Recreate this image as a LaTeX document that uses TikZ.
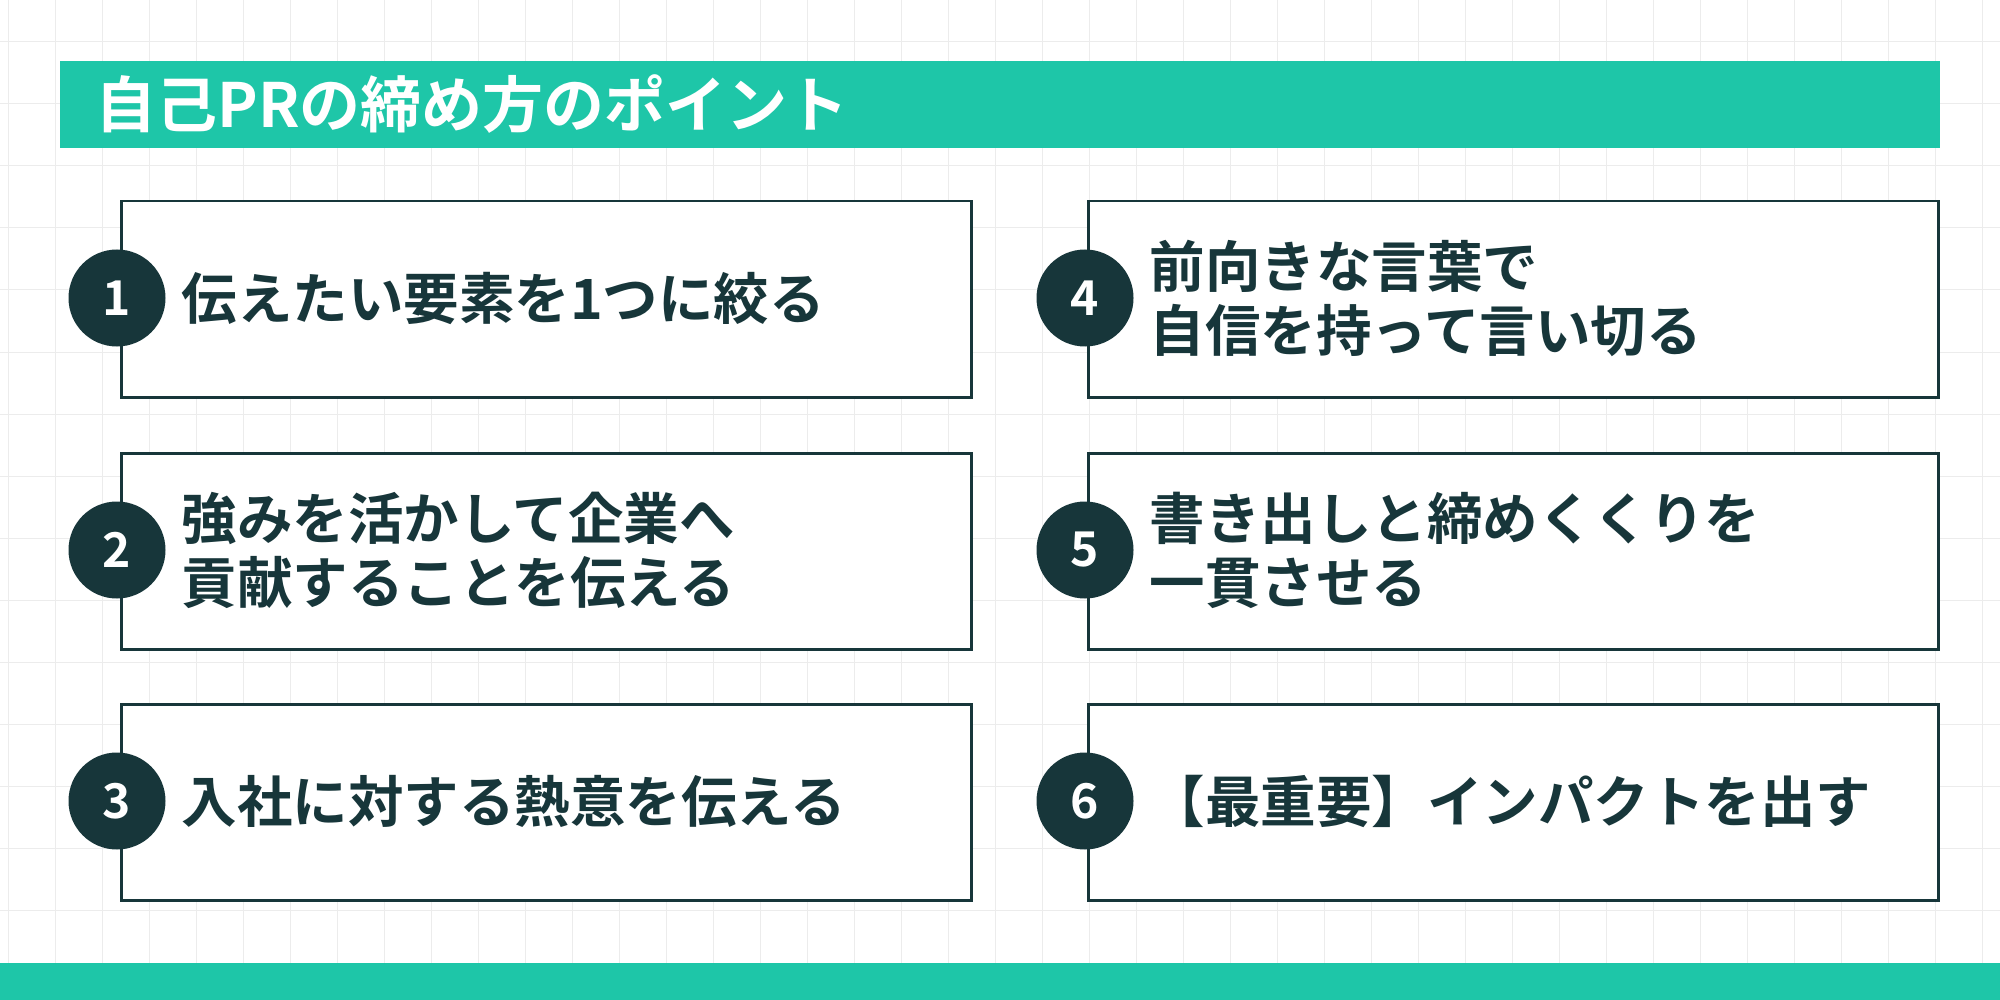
\documentclass[tikz,border=0pt]{standalone}
\usepackage{fontspec}
\newfontfamily\jp{Noto Sans CJK JP Bold}
\definecolor{grn}{HTML}{1EC6A8}
\definecolor{drk}{HTML}{17363A}
\begin{document}
\begin{tikzpicture}[x=1pt,y=-1pt,
  card/.style={draw=drk,line width=2.5pt,fill=white,minimum width=850pt,minimum height=196pt,anchor=north west},
  num/.style={circle,fill=drk,minimum size=97pt,text=white,font=\jp\fontsize{48}{48}\selectfont},
  lbl/.style={anchor=west,align=left,text=drk,font=\jp\fontsize{55.5}{64}\selectfont}]
\useasboundingbox (0,0) rectangle (2000,1000);
\fill[white] (0,0) rectangle (2000,1000);
\foreach \x in {8,55,...,2000} \draw[gray!15,line width=1pt] (\x,0) -- (\x,1000);
\foreach \y in {42,104,...,1000} \draw[gray!15,line width=1pt] (0,\y) -- (2000,\y);
\fill[grn] (60,61) rectangle (1940,148);
\node[anchor=west,text=white,font=\jp\fontsize{61}{61}\selectfont] (t) at (92,104) {自己PRの締め方のポイント};
\fill[grn] (0,963) rectangle (2000,1000);
\node[card] (c1) at (120,200) {};
\node[card] (c2) at (120,452) {};
\node[card] (c3) at (120,703) {};
\node[card] (c4) at (1087,200) {};
\node[card] (c5) at (1087,452) {};
\node[card] (c6) at (1087,703) {};
\node[num] (n1) at (117,298) {1};
\node[num] (n2) at (117,550) {2};
\node[num] (n3) at (117,801) {3};
\node[num] (n4) at (1085,298) {4};
\node[num] (n5) at (1085,550) {5};
\node[num] (n6) at (1085,801) {6};
\node[lbl] (l1) at (178,298) {伝えたい要素を1つに絞る};
\node[lbl] (l2) at (178,550) {強みを活かして企業へ\\貢献することを伝える};
\node[lbl] (l3) at (178,801) {入社に対する熱意を伝える};
\node[lbl] (l4) at (1146,298) {前向きな言葉で\\自信を持って言い切る};
\node[lbl] (l5) at (1146,550) {書き出しと締めくくりを\\一貫させる};
\node[lbl] (l6) at (1146,801) {【最重要】インパクトを出す};
\end{tikzpicture}
\end{document}
